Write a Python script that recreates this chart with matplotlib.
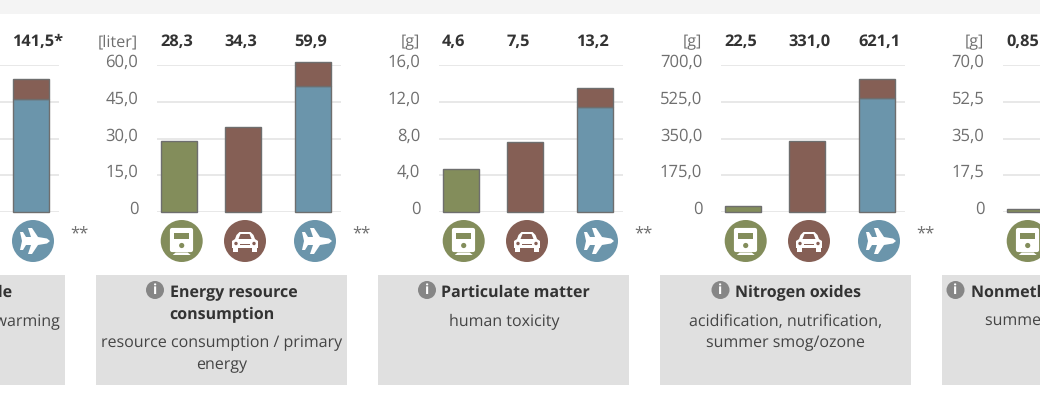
import matplotlib
matplotlib.use('Agg')
import matplotlib.pyplot as plt
from matplotlib.patches import Rectangle, Circle, Polygon
from matplotlib.transforms import ScaledTranslation

plt.rcParams['font.family'] = 'Open Sans'
plt.rcParams['text.hinting'] = 'no_hinting'

# chart values
units = ['', '[liter]', '[g]', '[g]', '[g]']
value_labels = [
    ['', '', '141,5*'],
    ['28,3', '34,3', '59,9'],
    ['4,6', '7,5', '13,2'],
    ['22,5', '331,0', '621,1'],
    ['0,85', '', ''],
]
y_max = [160, 60, 16, 700, 70]
y_ticks = [
    [0, 40, 80, 120, 160],
    [0, 15, 30, 45, 60],
    [0, 4, 8, 12, 16],
    [0, 175, 350, 525, 700],
    [0, 17.5, 35, 52.5, 70],
]
y_ticklabels = [
    ['', '', '', '', ''],
    ['0', '15,0', '30,0', '45,0', '60,0'],
    ['0', '4,0', '8,0', '12,0', '16,0'],
    ['0', '175,0', '350,0', '525,0', '700,0'],
    ['0', '17,5', '35,0', '52,5', '70,0'],
]
train_vals = [0, 28.8, 4.7, 29, 1.4]
car_vals = [0, 34.8, 7.6, 338, 0]
plane_blue = [122.5, 51.6, 11.4, 541, 0]
plane_brown = [22, 9.6, 2.1, 92, 0]

GREEN = '#838d5b'
BROWN = '#855f55'
BLUE = '#6b95ab'
EDGE = '#6e6e6e'
GRID = '#e2e2e2'
TICK = '#6f6f6f'
DARK = '#333333'
SUB = '#444444'

PANEL_STEP = 282
BAR_X = [3.7, 67.7, 137.7]
BAR_W = 36
ICON_X = [24.7, 88, 158]

fig = plt.figure(figsize=(10.4, 4), dpi=100)
W, H = 1040, 400

# page layer in pixel coordinates
bg = fig.add_axes([0, 0, 1, 1], zorder=0)
bg.set_xlim(0, W)
bg.set_ylim(H, 0)
bg.axis('off')
bg.add_patch(Rectangle((0, 0), W, 13.5, fc='#f4f4f4', ec='none'))

for i in range(5):
    off = (i - 1) * PANEL_STEP
    bg.add_patch(Rectangle((96 + off, 274.5), 251, 110, fc='#e0e0e0', ec='none'))


def info_icon(cx, cy):
    bg.add_patch(Circle((cx, cy), 9, fc='#868686', ec='none'))
    bg.text(cx, cy + 0.3, 'i', color='white', fontsize=10, fontweight='bold', ha='center', va='center')


def train_icon(cx, cy):
    bg.add_patch(Circle((cx, cy), 21, fc=GREEN, ec='none'))
    bg.add_patch(Rectangle((cx - 9.5, cy - 11.5), 19, 20.5, fc='white', ec='white', lw=3, joinstyle='round'))
    bg.add_patch(Rectangle((cx - 7.5, cy - 8), 15, 6, fc=GREEN, ec='none'))
    bg.add_patch(Circle((cx, cy + 4.5), 2.6, fc=GREEN, ec='none'))
    bg.add_patch(Polygon([(cx - 6, cy + 11.5), (cx + 6, cy + 11.5), (cx + 9, cy + 14), (cx - 9, cy + 14)], fc='white', ec='none'))


def car_icon(cx, cy):
    bg.add_patch(Circle((cx, cy), 21, fc=BROWN, ec='none'))
    body = [(cx - 8.5, cy - 6), (cx - 5.5, cy - 9), (cx + 5.5, cy - 9), (cx + 8.5, cy - 6), (cx + 10, cy - 2), (cx + 13, cy),
            (cx + 13, cy + 7), (cx - 13, cy + 7), (cx - 13, cy), (cx - 10, cy - 2)]
    bg.add_patch(Polygon(body, fc='white', ec='none'))
    bg.add_patch(Polygon([(cx - 6.5, cy - 2), (cx - 4.5, cy - 7), (cx + 4.5, cy - 7), (cx + 6.5, cy - 2)], fc=BROWN, ec='none'))
    bg.add_patch(Rectangle((cx - 12, cy + 7), 5, 4, fc='white', ec='none'))
    bg.add_patch(Rectangle((cx + 7, cy + 7), 5, 4, fc='white', ec='none'))
    bg.add_patch(Circle((cx - 9, cy + 2.5), 1.7, fc=BROWN, ec='none'))
    bg.add_patch(Circle((cx + 9, cy + 2.5), 1.7, fc=BROWN, ec='none'))
    bg.add_patch(Rectangle((cx - 5, cy + 2.5), 10, 1.5, fc=BROWN, ec='none'))


def plane_icon(cx, cy):
    bg.add_patch(Circle((cx, cy), 21, fc=BLUE, ec='none'))
    pts = [(17, 0), (14, -2.5), (5, -4), (-1, -13), (-5, -13), (-2, -4), (-7, -4), (-10, -9), (-13, -9), (-11, 0),
           (-13, 9), (-10, 9), (-7, 4), (-2, 4), (-5, 13), (-1, 13), (5, 4), (14, 2.5)]
    bg.add_patch(Polygon([(cx + x, cy + y) for x, y in pts], fc='white', ec='none'))


for i in range(5):
    off = (i - 1) * PANEL_STEP
    left = 157 + off
    ax = fig.add_axes([left / W, 1 - 212 / H, 184 / W, 147 / H], zorder=2)
    ax.patch.set_alpha(0)
    ax.set_xlim(0, 184)
    ax.set_ylim(0, y_max[i])
    for s in ax.spines.values():
        s.set_visible(False)
    ax.set_xticks([])
    ax.set_yticks(y_ticks[i])
    ax.set_yticklabels(y_ticklabels[i], fontsize=12, color=TICK)
    ax.tick_params(axis='y', length=0, pad=13.5)
    shift = ScaledTranslation(0, 4.5 / 100, fig.dpi_scale_trans)
    for lab in ax.get_yticklabels():
        lab.set_transform(lab.get_transform() + shift)
    ax.grid(axis='y', color=GRID, lw=1.1, zorder=0)
    ax.set_axisbelow(True)

    kw = dict(width=BAR_W, align='edge', edgecolor=EDGE, linewidth=1, zorder=3, clip_on=False)
    if train_vals[i]:
        ax.bar(BAR_X[0], train_vals[i], color=GREEN, **kw)
    if car_vals[i]:
        ax.bar(BAR_X[1], car_vals[i], color=BROWN, **kw)
    if plane_blue[i]:
        ax.bar(BAR_X[2], plane_blue[i], color=BLUE, **kw)
        ax.bar(BAR_X[2], plane_brown[i], bottom=plane_blue[i], color=BROWN, **kw)

    # units and the values above the bars
    bg.text(left - 19, 42, units[i], fontsize=11.6, color=TICK, ha='right', va='center')
    for bx, lab in zip(BAR_X, value_labels[i]):
        bg.text(left + bx - 0.5, 42, lab, fontsize=11.8, fontweight='bold', color=DARK, ha='left', va='center')

    train_icon(left + ICON_X[0], 241)
    car_icon(left + ICON_X[1], 241)
    plane_icon(left + ICON_X[2], 241)
    bg.text(left + 195, 235, '**', fontsize=12, color=TICK, ha='left', va='center')

# box captions
bg.text(12, 293, 'Carbon dioxide', fontsize=11.5, fontweight='bold', color=DARK, ha='right', va='center')
bg.text(60, 321.5, 'greenhouse effect / global warming', fontsize=11.5, color=SUB, ha='right', va='center')

info_icon(155, 290)
bg.text(170, 293, 'Energy resource', fontsize=11.5, fontweight='bold', color=DARK, ha='left', va='center')
bg.text(221.5, 315, 'consumption', fontsize=11.5, fontweight='bold', color=DARK, ha='center', va='center')
bg.text(221.5, 343.5, 'resource consumption / primary', fontsize=11.5, color=SUB, ha='center', va='center')
bg.text(221.5, 365.5, 'energy', fontsize=11.5, color=SUB, ha='center', va='center')

info_icon(427, 290)
bg.text(441, 293, 'Particulate matter', fontsize=11.5, fontweight='bold', color=DARK, ha='left', va='center')
bg.text(504, 321.5, 'human toxicity', fontsize=11.5, color=SUB, ha='center', va='center')

info_icon(720.5, 290)
bg.text(735, 293, 'Nitrogen oxides', fontsize=11.5, fontweight='bold', color=DARK, ha='left', va='center')
bg.text(785.5, 321.5, 'acidification, nutrification,', fontsize=11.5, color=SUB, ha='center', va='center')
bg.text(785.5, 343.5, 'summer smog/ozone', fontsize=11.5, color=SUB, ha='center', va='center')

info_icon(955.5, 290)
bg.text(971, 293, 'Nonmethane hydrocarbons', fontsize=11.5, fontweight='bold', color=DARK, ha='left', va='center')
bg.text(985, 321.5, 'summer smog/ozone', fontsize=11.5, color=SUB, ha='left', va='center')

fig.savefig('out.png', dpi=100)
